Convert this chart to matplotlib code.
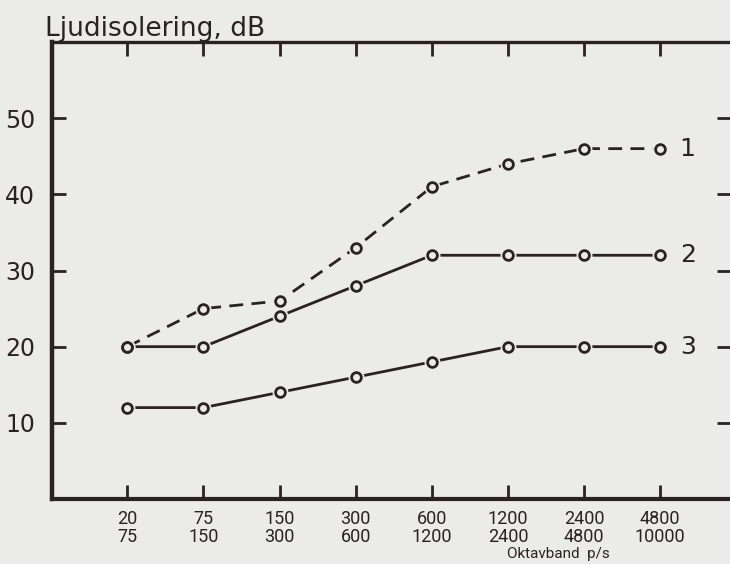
import matplotlib
matplotlib.use("Agg")
import matplotlib.pyplot as plt
from matplotlib import font_manager

# octave bands (lower / upper limit, p/s)
band_low = ["20", "75", "150", "300", "600", "1200", "2400", "4800"]
band_high = ["75", "150", "300", "600", "1200", "2400", "4800", "10000"]

# sound insulation, dB
curve1 = [20, 25, 26, 33, 41, 44, 46, 46]
curve2 = [20, 20, 24, 28, 32, 32, 32, 32]
curve3 = [12, 12, 14, 16, 18, 20, 20, 20]
curve_names = ["1", "2", "3"]

y_ticks = [10, 20, 30, 40, 50]

ink = "#2a2321"
paper = "#ebebe9"

plt.rcParams["font.family"] = ["DejaVu Sans"]

# narrow face for the band labels if there is one
names = {f.name for f in font_manager.fontManager.ttflist}
narrow = "Liberation Sans Narrow" if "Liberation Sans Narrow" in names else "Roboto"

fig = plt.figure(figsize=(7.3, 5.64), dpi=100, facecolor=paper)
ax = fig.add_axes([52 / 730, 65 / 564, 679 / 730, 457 / 564])
ax.set_facecolor(paper)

xs = list(range(len(band_low)))
styles = [(0, (5, 3)), "-", "-"]
for vals, ls, name in zip([curve1, curve2, curve3], styles, curve_names):
    ax.plot(xs, vals, color=ink, lw=2.0, ls=ls, zorder=2)
    # paper-coloured halo so the line stops short of the circle
    ax.plot(xs, vals, ls="none", marker="o", ms=10.5, mfc=paper, mec=paper,
            zorder=3)
    ax.plot(xs, vals, ls="none", marker="o", ms=7, mfc=paper, mec=ink,
            mew=2.0, zorder=4)
    ax.annotate(name, (xs[-1], vals[-1]), xytext=(14, 0),
                textcoords="offset points", va="center", ha="left",
                fontsize=18, color=ink)

ax.set_xlim(-0.99, 7.93)
ax.set_ylim(0, 60)

ax.set_xticks(xs)
ax.set_xticklabels([f"{a}\n{b}" for a, b in zip(band_low, band_high)],
                   fontsize=13, color=ink, linespacing=1.0, family=narrow)
ax.set_yticks(y_ticks)
ax.set_yticklabels([str(v) for v in y_ticks], fontsize=17, color=ink)

ax.tick_params(axis="x", direction="in", length=10, width=2, color=ink,
               pad=8, top=True)
ax.tick_params(axis="y", direction="in", length=10, width=2, color=ink,
               pad=12, right=True)

for side, w in [("left", 3.2), ("bottom", 3.0), ("top", 2.4), ("right", 2.0)]:
    ax.spines[side].set_linewidth(w)
    ax.spines[side].set_color(ink)

fig.text(45 / 730, 1 - 36 / 564, "Ljudisolering, dB", fontsize=19,
         color=ink, ha="left", va="baseline")
fig.text(558 / 730, 1 - 558 / 564, "Oktavband  p/s", fontsize=11,
         color=ink, ha="center", va="baseline", family=narrow)

fig.savefig("out.png", dpi=100, facecolor=paper)
